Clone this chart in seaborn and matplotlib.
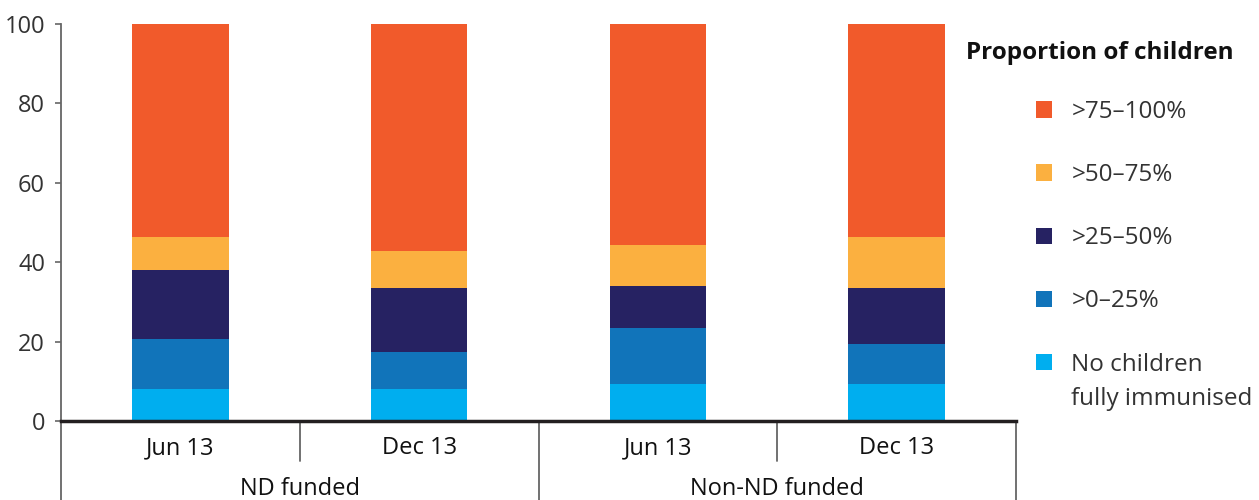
import pandas as pd
import matplotlib.pyplot as plt
import seaborn as sns

# categories on the x axis
periods = ["Jun 13", "Dec 13", "Jun 13", "Dec 13"]
groups = ["ND funded", "ND funded", "Non-ND funded", "Non-ND funded"]

# share of services (%) in each band, bottom band first
none_immunised = [8.1, 8.1, 9.3, 9.3]
band_0_25 = [12.5, 9.3, 14.1, 10.1]
band_25_50 = [17.5, 16.0, 10.7, 14.0]
band_50_75 = [8.2, 9.5, 10.2, 12.9]
band_75_100 = [53.7, 57.1, 55.7, 53.7]

band_labels = ["No children", ">0–25%", ">25–50%", ">50–75%", ">75–100%"]
band_label_extra = "fully immunised"  # second line of the first band's label
band_colors = ["#00AEEF", "#1174BA", "#262262", "#FBB040", "#F15A2B"]

legend_title = "Proportion of children"

# long table with cumulative heights (stacking by overlapping bars)
bands = [none_immunised, band_0_25, band_25_50, band_50_75, band_75_100]
df = pd.DataFrame({"key": [f"{g} | {p}" for g, p in zip(groups, periods)]})
running = [0.0] * len(periods)
for i, vals in enumerate(bands):
    running = [r + v for r, v in zip(running, vals)]
    df[f"cum{i}"] = running

sns.set_style("white")
plt.rcParams["font.family"] = ["Open Sans", "DejaVu Sans"]

fig = plt.figure(figsize=(12.59, 5), dpi=100)
ax = fig.add_axes([61 / 1259, 1 - 421 / 500, (1016 - 61) / 1259, 397 / 500])

# draw the top band first, then each lower band over it
for i in reversed(range(len(bands))):
    sns.barplot(data=df, x="key", y=f"cum{i}", color=band_colors[i], width=0.405,
                saturation=1, errorbar=None, linewidth=0, ax=ax)

ax.set_xlim(-0.5, len(periods) - 0.5)
ax.set_ylim(0, 100)
ax.set_yticks(range(0, 101, 20))
ax.set_xticks([])
ax.set_xlabel("")
ax.set_ylabel("")
ax.tick_params(axis="y", left=True, direction="out", length=4.5, width=1.2,
               color="#666666", pad=7, labelsize=17, labelcolor="#333333")

sns.despine(ax=ax, top=True, right=True)
ax.spines["left"].set_color("#666666")
ax.spines["left"].set_linewidth(1.3)
ax.spines["bottom"].set_color("#231F20")
ax.spines["bottom"].set_linewidth(2.5)

# category labels and group labels under the axis
tr = ax.get_xaxis_transform()
for i, p in enumerate(periods):
    ax.text(i, -0.068, p, transform=tr, ha="center", va="center", fontsize=17, color="#111111")
for g in dict.fromkeys(groups):
    idx = [i for i, gg in enumerate(groups) if gg == g]
    ax.text(sum(idx) / len(idx), -0.172, g, transform=tr, ha="center", va="center",
            fontsize=17, color="#111111")

# separators: short between periods, long between groups and at the ends
for x in [0.5, 2.5]:
    ax.plot([x, x], [0, -0.1], transform=tr, clip_on=False, color="#666666", lw=1.3)
for x in [-0.5, 1.5, 3.5]:
    ax.plot([x, x], [0, -0.21], transform=tr, clip_on=False, color="#666666", lw=1.3)

# legend
handles = [c.patches[0] for c in ax.containers]
fig.text(966 / 1259, 1 - 53 / 500, legend_title, fontsize=17.5, fontweight="bold",
         ha="left", va="center", color="#111111")
leg = fig.legend(handles, [band_labels[i] for i in reversed(range(len(bands)))],
                 loc="upper left", bbox_to_anchor=(1036 / 1259, 1 - 100 / 500),
                 frameon=False, fontsize=17.5, handlelength=0.66, handleheight=0.66,
                 handletextpad=0.8, labelspacing=1.61, borderpad=0, borderaxespad=0,
                 labelcolor="#333333")

# second line of the last legend label, placed under it
fig.canvas.draw()
last = leg.get_texts()[-1]
bb = last.get_window_extent()
x0, y1 = fig.transFigure.inverted().transform((bb.x0, bb.y1 - 34))
fig.text(x0, y1, band_label_extra, fontsize=17.5, color="#333333", ha="left", va="top")

fig.savefig("out.png", dpi=100)
